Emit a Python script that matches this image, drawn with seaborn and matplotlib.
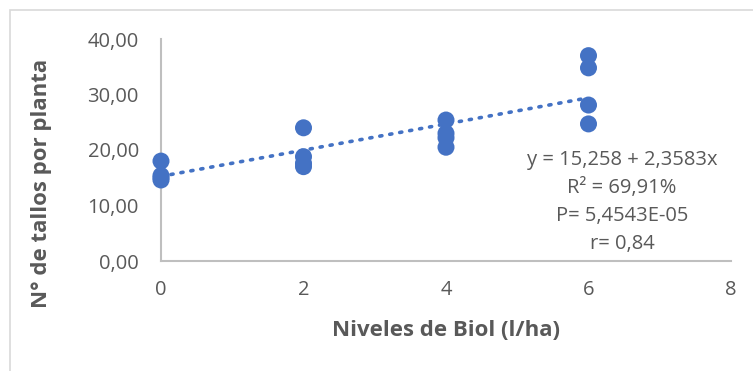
import matplotlib
matplotlib.use("Agg")
import matplotlib.pyplot as plt
import seaborn as sns
import numpy as np
import pandas as pd
from matplotlib.patches import Rectangle

# Biol dose levels (l/ha) and stems per plant observed at each level
niveles = [0, 0, 0, 0,
           2, 2, 2, 2,
           4, 4, 4, 4,
           6, 6, 6, 6]
tallos = [18.0, 15.4, 15.0, 14.6,
          24.0, 18.8, 17.6, 17.0,
          25.4, 23.0, 22.2, 20.5,
          37.0, 34.8, 28.1, 24.7]

# Linear trend reported for the series
intercepto = 15.258
pendiente = 2.3583
etiquetas_ajuste = ["y = 15,258 + 2,3583x", "R² = 69,91%", "P= 5,4543E-05", "r= 0,84"]

x_ticks = [0, 2, 4, 6, 8]
y_ticks = [0, 10, 20, 30, 40]
y_tick_labels = ["0,00", "10,00", "20,00", "30,00", "40,00"]

df = pd.DataFrame({"nivel": niveles, "tallos": tallos})

sns.set_theme(style="white")
plt.rcParams["font.family"] = ["Open Sans", "DejaVu Sans"]

azul = "#4472C4"
gris_texto = "#595959"
gris_eje = "#BFBFBF"

fig = plt.figure(figsize=(7.53, 3.71), dpi=100)
ax = fig.add_axes([161 / 753, 1 - 261 / 371, (731 - 161) / 753, (261 - 39) / 371])

sns.scatterplot(data=df, x="nivel", y="tallos", ax=ax, s=150, color=azul,
                edgecolor="none", linewidth=0, zorder=3, legend=False, clip_on=False)

# Dotted trend line over the observed dose range
xs = np.array([min(niveles), max(niveles)])
ax.plot(xs, intercepto + pendiente * xs, linestyle=(0, (0.6, 2.2)), color=azul,
        linewidth=2.6, dash_capstyle="round", zorder=2)

ax.set_xlim(0, 8)
ax.set_ylim(0, 40)
ax.set_xticks(x_ticks)
ax.set_xticklabels([str(t) for t in x_ticks])
ax.set_yticks(y_ticks)
ax.set_yticklabels(y_tick_labels)
ax.tick_params(axis="both", length=0, labelsize=14.5, labelcolor=gris_texto)
ax.tick_params(axis="y", pad=16)
ax.tick_params(axis="x", pad=14)
for side in ["top", "right"]:
    ax.spines[side].set_visible(False)
for side in ["left", "bottom"]:
    ax.spines[side].set_color(gris_eje)
    ax.spines[side].set_linewidth(1.5)
ax.set_xlabel("")
ax.set_ylabel("")
ax.grid(False)

fig.text(446 / 753, 1 - 331 / 371, "Niveles de Biol (l/ha)", ha="center", va="center",
         fontsize=16, fontweight="bold", color=gris_texto)
fig.text(42 / 753, 1 - 183 / 371, "N° de tallos por planta", ha="center", va="center",
         rotation=90, fontsize=16, fontweight="bold", color=gris_texto)

for i, linea in enumerate(etiquetas_ajuste):
    fig.text(622 / 753, 1 - (160 + 28 * i) / 371, linea, ha="center", va="center",
             fontsize=14.5, color=gris_texto)

# Light chart-area frame
fig.patches.append(Rectangle((10 / 753, -0.05), 1.2, 1 - 10 / 371 + 0.05,
                             transform=fig.transFigure, fill=False,
                             edgecolor="#D9D9D9", linewidth=1.2))

fig.savefig("out.png", dpi=100)
